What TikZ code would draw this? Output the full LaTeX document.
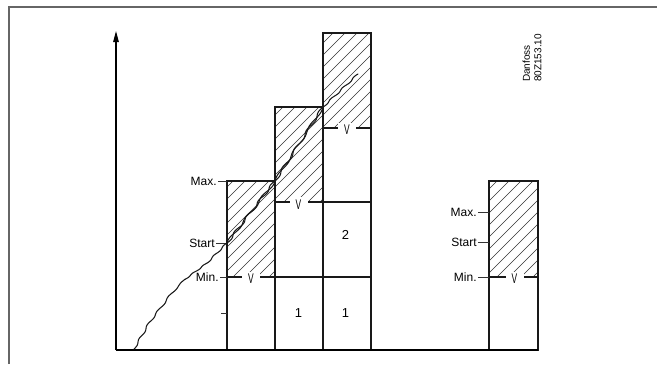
\documentclass[tikz,border=0pt]{standalone}
\usepackage{fontspec}
\setmainfont{Liberation Sans}
\usetikzlibrary{arrows.meta}
\newcommand\myhatch[4]{%
  \begin{scope}
    \clip (#1,#2) rectangle (#3,#4);
    \foreach \c in {150,162,...,1000} \draw[hatch] (\c,0) -- ({\c-420},420);
  \end{scope}}
% wiggly segment: x1 y1 x2 y2 waves amplitude
\newcommand\wseg[6]{%
  \draw[curve] plot[domain=0:1, samples=45, smooth]
    ({#1+(#3-#1)*\x+#6*sin(\x*#5*360)}, {#2+(#4-#2)*\x});}
\begin{document}
\begin{tikzpicture}[x=1pt,y=-1pt,
  boxline/.style={draw=black!90,line width=1.15pt},
  tickline/.style={draw=black!80,line width=0.8pt},
  hatch/.style={black!80,line width=0.6pt},
  curve/.style={draw=black!90,line width=1.05pt,line join=round,line cap=round},
  lbl/.style={font=\fontsize{12}{14}\selectfont, inner sep=1.2pt, anchor=east},
  num/.style={font=\fontsize{13}{15}\selectfont, inner sep=0pt},
  vmark/.style={fill=white, inner sep=0pt, minimum width=18pt, minimum height=15pt, font=\fontsize{14}{15}\selectfont}
]
\useasboundingbox (0,0) rectangle (666,364);
% frame
\draw[draw=black!60,line width=1.2pt] (9,364) -- (9,7) -- (657,7);

% hatching
\myhatch{227}{181}{275}{277}
\myhatch{275}{107}{323}{202}
\myhatch{323}{33}{371}{128}
\myhatch{489}{181}{538}{277}

% horizontal division lines
\draw[boxline] (227,277) -- (371,277);
\draw[boxline] (275,202) -- (371,202);
\draw[boxline] (323,128) -- (371,128);
\draw[boxline] (489,277) -- (538,277);

% V marks
\node[vmark] (v1) at (251,279) {\scalebox{0.6}[1]{V}};
\node[vmark] (v2) at (298.5,204.5) {\scalebox{0.6}[1]{V}};
\node[vmark] (v3) at (347,130) {\scalebox{0.6}[1]{V}};
\node[vmark] (v4) at (514.5,279) {\scalebox{0.6}[1]{V}};

% boxes
\draw[boxline] (227,350) rectangle (275,181);
\draw[boxline] (275,350) rectangle (323,107);
\draw[boxline] (323,350) rectangle (371,33);
\draw[boxline] (489,350) rectangle (538,181);

% axes
\coordinate (o) at (116,350);
\coordinate (ytip) at (116,31);
\coordinate (xend) at (538,350);
\draw[line width=1.1pt,-{Triangle[length=11pt,width=5.5pt]}] (o) -- (ytip);
\draw[line width=1.1pt] (o) -- (xend);

% labels left group
\node[lbl] (max1) at (218,181) {Max.};
\node[lbl] (start1) at (216,243.5) {Start};
\node[lbl] (min1) at (220,277) {Min.};
\coordinate (tick4) at (221,313);
\draw[tickline] (max1.east) -- (227,181);
\draw[tickline] (start1.east) -- (227,243.5);
\draw[tickline] (min1.east) -- (227,277);
\draw[tickline] (tick4) -- (227,313);

% labels right group
\node[lbl] (max2) at (478,212) {Max.};
\node[lbl] (start2) at (478,242) {Start};
\node[lbl] (min2) at (478,277) {Min.};
\draw[tickline] (max2.east) -- (489,212);
\draw[tickline] (start2.east) -- (489,242);
\draw[tickline] (min2.east) -- (489,277);

% numbers
\node[num] (n1a) at (298.5,313) {1};
\node[num] (n1b) at (345.5,313) {1};
\node[num] (n2) at (345.5,235) {2};

% Danfoss
\node[rotate=90, anchor=north west, align=left, inner sep=0pt,
      font=\fontsize{10}{11.5}\selectfont] (dan) at (522.5,82) {Danfoss\\80Z153.10};

% wavy curve
\wseg{134}{349}{150}{321.7}{2}{1.0}
\wseg{150}{321.7}{171.7}{293.3}{2}{1.0}
\wseg{171.7}{293.3}{185}{279.3}{1}{0.8}
\wseg{185}{279.3}{206.7}{263.3}{2}{0.8}
\wseg{206.7}{263.3}{227}{243}{2}{0.9}
\wseg{227}{243}{275}{181}{4}{1.5}
\wseg{227}{243}{275}{181}{3}{-1.5}
\wseg{275}{181}{323}{107}{4}{1.5}
\wseg{275}{181}{323}{107}{3}{-1.4}
\wseg{323}{107}{358}{74}{3}{1.0}
\end{tikzpicture}
\end{document}
